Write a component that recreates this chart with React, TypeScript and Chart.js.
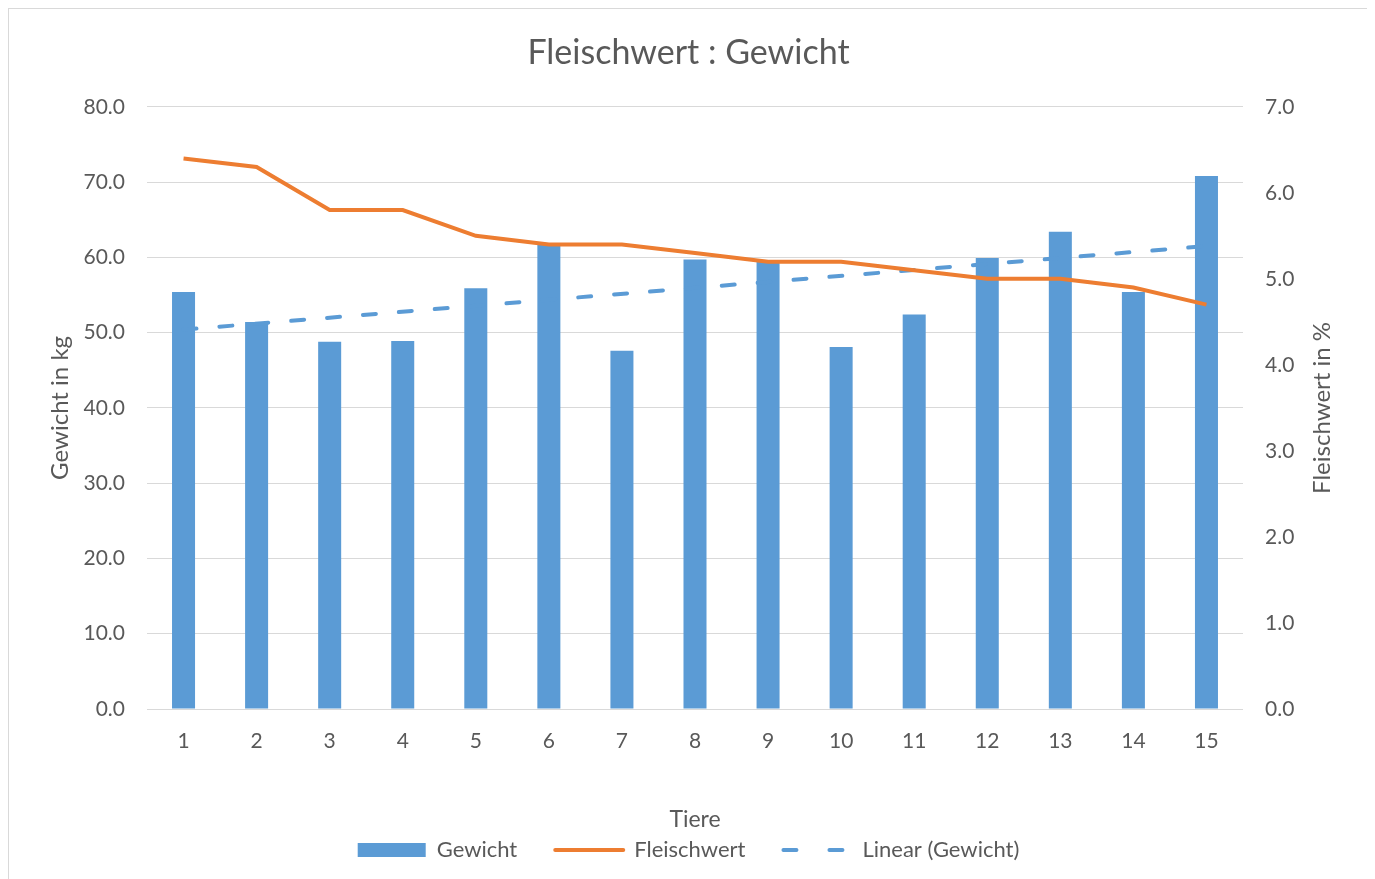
import React, { useEffect, useRef } from 'react';
import { Chart, registerables } from 'chart.js';

Chart.register(...registerables);

const tiere = ['1', '2', '3', '4', '5', '6', '7', '8', '9', '10', '11', '12', '13', '14', '15'];
const gewicht = [55.4, 51.4, 48.8, 48.9, 55.9, 61.8, 47.6, 59.7, 59.6, 48.1, 52.4, 59.9, 63.4, 55.4, 70.8];
const fleischwert = [6.4, 6.3, 5.8, 5.8, 5.5, 5.4, 5.4, 5.3, 5.2, 5.2, 5.1, 5.0, 5.0, 4.9, 4.7];
const trendGewicht = [
  { x: '1', y: 50.4 },
  { x: '15', y: 61.5 },
];

const FONT = 'Lato, "Open Sans", sans-serif';
const TEXT = '#595959';
const BLUE = '#5B9BD5';
const ORANGE = '#ED7D31';
const GRID = '#D9D9D9';

const rightTitle = {
  id: 'rightTitle',
  afterDraw(chart: any) {
    const { ctx, chartArea } = chart;
    const s = chart.scales.y1;
    ctx.save();
    ctx.translate(s.left + 79, (chartArea.top + chartArea.bottom) / 2);
    ctx.rotate(-Math.PI / 2);
    ctx.font = `24px ${FONT}`;
    ctx.fillStyle = TEXT;
    ctx.textAlign = 'center';
    ctx.textBaseline = 'middle';
    ctx.fillText('Fleischwert in %', 0, 0);
    ctx.restore();
  },
};

export default function App() {
  const ref = useRef<HTMLCanvasElement | null>(null);
  useEffect(() => {
    if (!ref.current) return;
    const chart = new Chart(ref.current, {
      type: 'bar',
      data: {
        labels: tiere,
        datasets: [
          {
            type: 'bar',
            label: 'Gewicht',
            data: gewicht,
            backgroundColor: BLUE,
            barPercentage: 0.315,
            categoryPercentage: 1,
            yAxisID: 'y',
            order: 3,
          },
          {
            type: 'line',
            label: 'Fleischwert',
            data: fleischwert,
            borderColor: ORANGE,
            backgroundColor: ORANGE,
            borderWidth: 4,
            pointRadius: 0,
            tension: 0,
            yAxisID: 'y1',
            order: 1,
          },
          {
            type: 'line',
            label: 'Linear (Gewicht)',
            data: trendGewicht as any,
            borderColor: BLUE,
            backgroundColor: BLUE,
            borderWidth: 4,
            borderDash: [13, 23],
            borderCapStyle: 'round',
            pointRadius: 0,
            yAxisID: 'y',
            order: 2,
          },
        ],
      },
      options: {
        responsive: true,
        maintainAspectRatio: false,
        animation: false,
        layout: { padding: { left: 0, right: 0, top: 0, bottom: 8 } },
        plugins: {
          tooltip: { enabled: false },
          title: {
            display: true,
            text: 'Fleischwert : Gewicht',
            color: TEXT,
            font: { family: FONT, size: 34, weight: 'normal' },
            padding: { top: 24, bottom: 33 },
          },
          legend: {
            position: 'bottom',
            labels: {
              usePointStyle: true,
              pointStyleWidth: 68,
              boxHeight: 14,
              padding: 38,
              color: TEXT,
              font: { family: FONT, size: 22 },
              generateLabels: () => [
                {
                  text: 'Gewicht',
                  fillStyle: BLUE,
                  strokeStyle: BLUE,
                  lineWidth: 0,
                  pointStyle: 'rect',
                  fontColor: TEXT,
                  datasetIndex: 0,
                } as any,
                {
                  text: 'Fleischwert',
                  fillStyle: ORANGE,
                  strokeStyle: ORANGE,
                  lineWidth: 4,
                  lineCap: 'round',
                  pointStyle: 'line',
                  fontColor: TEXT,
                  datasetIndex: 1,
                } as any,
                {
                  text: 'Linear (Gewicht)',
                  fillStyle: BLUE,
                  strokeStyle: BLUE,
                  lineWidth: 4,
                  lineCap: 'round',
                  lineDash: [13, 33],
                  pointStyle: 'line',
                  fontColor: TEXT,
                  datasetIndex: 2,
                } as any,
              ],
            },
          },
        },
        scales: {
          x: {
            type: 'category',
            grid: { display: false },
            border: { display: false },
            ticks: { color: TEXT, font: { family: FONT, size: 21 }, padding: 12 },
            title: {
              display: true,
              text: 'Tiere',
              color: TEXT,
              font: { family: FONT, size: 23 },
              padding: { top: 0, bottom: -32 },
            },
            afterFit: (s: any) => {
              s.height = 92;
            },
          },
          y: {
            position: 'left',
            min: 0,
            max: 80,
            grid: { color: GRID, lineWidth: 1, drawTicks: false },
            border: { display: false },
            ticks: {
              stepSize: 10,
              color: TEXT,
              font: { family: FONT, size: 21 },
              padding: 22,
              callback: (v: any) => Number(v).toFixed(1),
            },
            title: {
              display: true,
              text: 'Gewicht in kg',
              color: TEXT,
              font: { family: FONT, size: 24 },
              padding: { top: 37, bottom: 0 },
            },
            afterFit: (s: any) => {
              s.width = 138;
            },
          },
          y1: {
            position: 'right',
            min: 0,
            max: 7,
            grid: { display: false, drawTicks: false },
            border: { display: false },
            ticks: {
              stepSize: 1,
              color: TEXT,
              font: { family: FONT, size: 21 },
              padding: 22,
              callback: (v: any) => Number(v).toFixed(1),
            },
            afterFit: (s: any) => {
              s.width = 125;
            },
          },
        },
      },
      plugins: [rightTitle],
    });
    return () => chart.destroy();
  }, []);

  return (
    <div
      style={{
        width: 1361,
        height: 871,
        border: '1px solid #D9D9D9',
        borderBottom: 'none',
        boxSizing: 'border-box',
        position: 'relative',
        background: '#fff',
      }}
    >
      <canvas ref={ref} />
    </div>
  );
}
